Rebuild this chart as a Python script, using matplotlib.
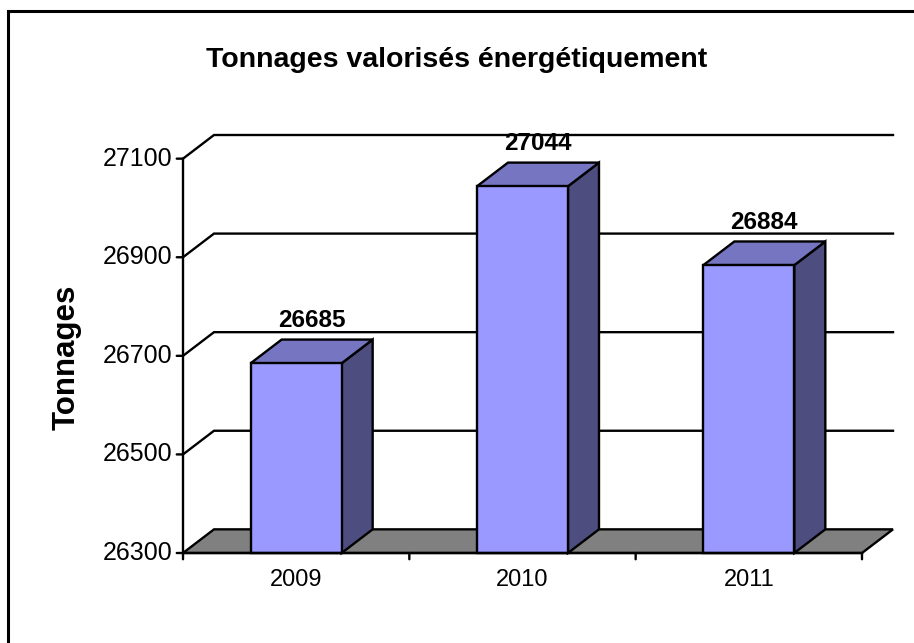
import matplotlib
matplotlib.use("Agg")
import matplotlib.pyplot as plt
from matplotlib.patches import Polygon, Rectangle

categories = ["2009", "2010", "2011"]
values = [26685, 27044, 26884]
yticks = [26300, 26500, 26700, 26900, 27100]
title = "Tonnages valorisés énergétiquement"
ylabel = "Tonnages"

plt.rcParams['font.family'] = ['Liberation Sans', 'DejaVu Sans']

W, H = 914, 643
fig = plt.figure(figsize=(W / 100, H / 100), dpi=100)

# axes area in pixels (front-left origin to back-right corner)
L, R, T, B = 183, 893, 135, 553
ax = fig.add_axes([L / W, 1 - B / H, (R - L) / W, (B - T) / H])
DX = 0.137          # depth offset along x (category units)
DY = 48.0           # depth offset along y (data units)
ymin, ymax = yticks[0], yticks[-1]
n = len(categories)
ax.set_xlim(0, n + DX)
ax.set_ylim(ymin, ymax + DY)
ax.axis('off')

front = "#9999FF"
topc = "#7575C2"
side = "#4D4D80"
floorc = "#808080"
lw = 1.7

# gridlines on back wall (with diagonal from front axis)
for t in yticks[1:]:
    ax.plot([0, DX, n + DX], [t, t + DY, t + DY], color='black', lw=lw,
            clip_on=False, zorder=1, solid_joinstyle='miter')

# floor
ax.add_patch(Polygon([(0, ymin), (n, ymin), (n + DX, ymin + DY), (DX, ymin + DY)],
                     closed=True, facecolor=floorc, edgecolor='black', lw=lw,
                     zorder=2, clip_on=False))

bw = 0.402
for i, v in enumerate(values):
    c = i + 0.5
    x0, x1 = c - bw / 2, c + bw / 2
    ax.add_patch(Polygon([(x1, ymin), (x1 + DX, ymin + DY), (x1 + DX, v + DY), (x1, v)],
                         closed=True, facecolor=side, edgecolor='black', lw=lw,
                         zorder=3, clip_on=False, joinstyle='miter'))
    ax.add_patch(Polygon([(x0, v), (x1, v), (x1 + DX, v + DY), (x0 + DX, v + DY)],
                         closed=True, facecolor=topc, edgecolor='black', lw=lw,
                         zorder=3, clip_on=False, joinstyle='miter'))
    ax.add_patch(Rectangle((x0, ymin), bw, v - ymin, facecolor=front,
                           edgecolor='black', lw=lw, zorder=4, clip_on=False,
                           joinstyle='miter'))
    ax.annotate(str(v), (c + DX / 2, v), xytext=(0, 31), textcoords='offset points',
                ha='center', va='center', fontsize=17.5, fontweight='bold',
                zorder=6, annotation_clip=False)

# front axes
ax.plot([0, 0], [ymin, ymax], color='black', lw=lw, zorder=5, clip_on=False)
ax.plot([0, n], [ymin, ymin], color='black', lw=lw, zorder=5, clip_on=False)
for t in yticks:
    ax.annotate('', (0, t), xytext=(-4.5, 0), textcoords='offset points',
                arrowprops=dict(arrowstyle='-', lw=lw, color='black',
                                shrinkA=0, shrinkB=0), annotation_clip=False)
    ax.annotate(str(t), (0, t), xytext=(-7.5, 0), textcoords='offset points',
                ha='right', va='center', fontsize=18, annotation_clip=False)
for i in range(n + 1):
    ax.annotate('', (i, ymin), xytext=(0, -4.5), textcoords='offset points',
                arrowprops=dict(arrowstyle='-', lw=lw, color='black',
                                shrinkA=0, shrinkB=0), annotation_clip=False)
for i, cat in enumerate(categories):
    ax.annotate(cat, (i + 0.5, ymin), xytext=(0, -19.5), textcoords='offset points',
                ha='center', va='center', fontsize=17, annotation_clip=False)

fig.text(0.5, 1 - 60 / H, title, ha='center', va='center', fontsize=20.5,
         fontweight='bold')
fig.text(67 / W, 1 - 357 / H, ylabel, ha='center', va='center', fontsize=22.5,
         fontweight='bold', rotation=90)

# outer border (right and bottom edges fall outside the image)
fig.patches.append(Rectangle((8 / W, -0.05), 1.2, 1 - 11 / H + 0.05,
                             transform=fig.transFigure, fill=False,
                             edgecolor='black', lw=2.2, zorder=10))

fig.savefig("out.png", dpi=100)
